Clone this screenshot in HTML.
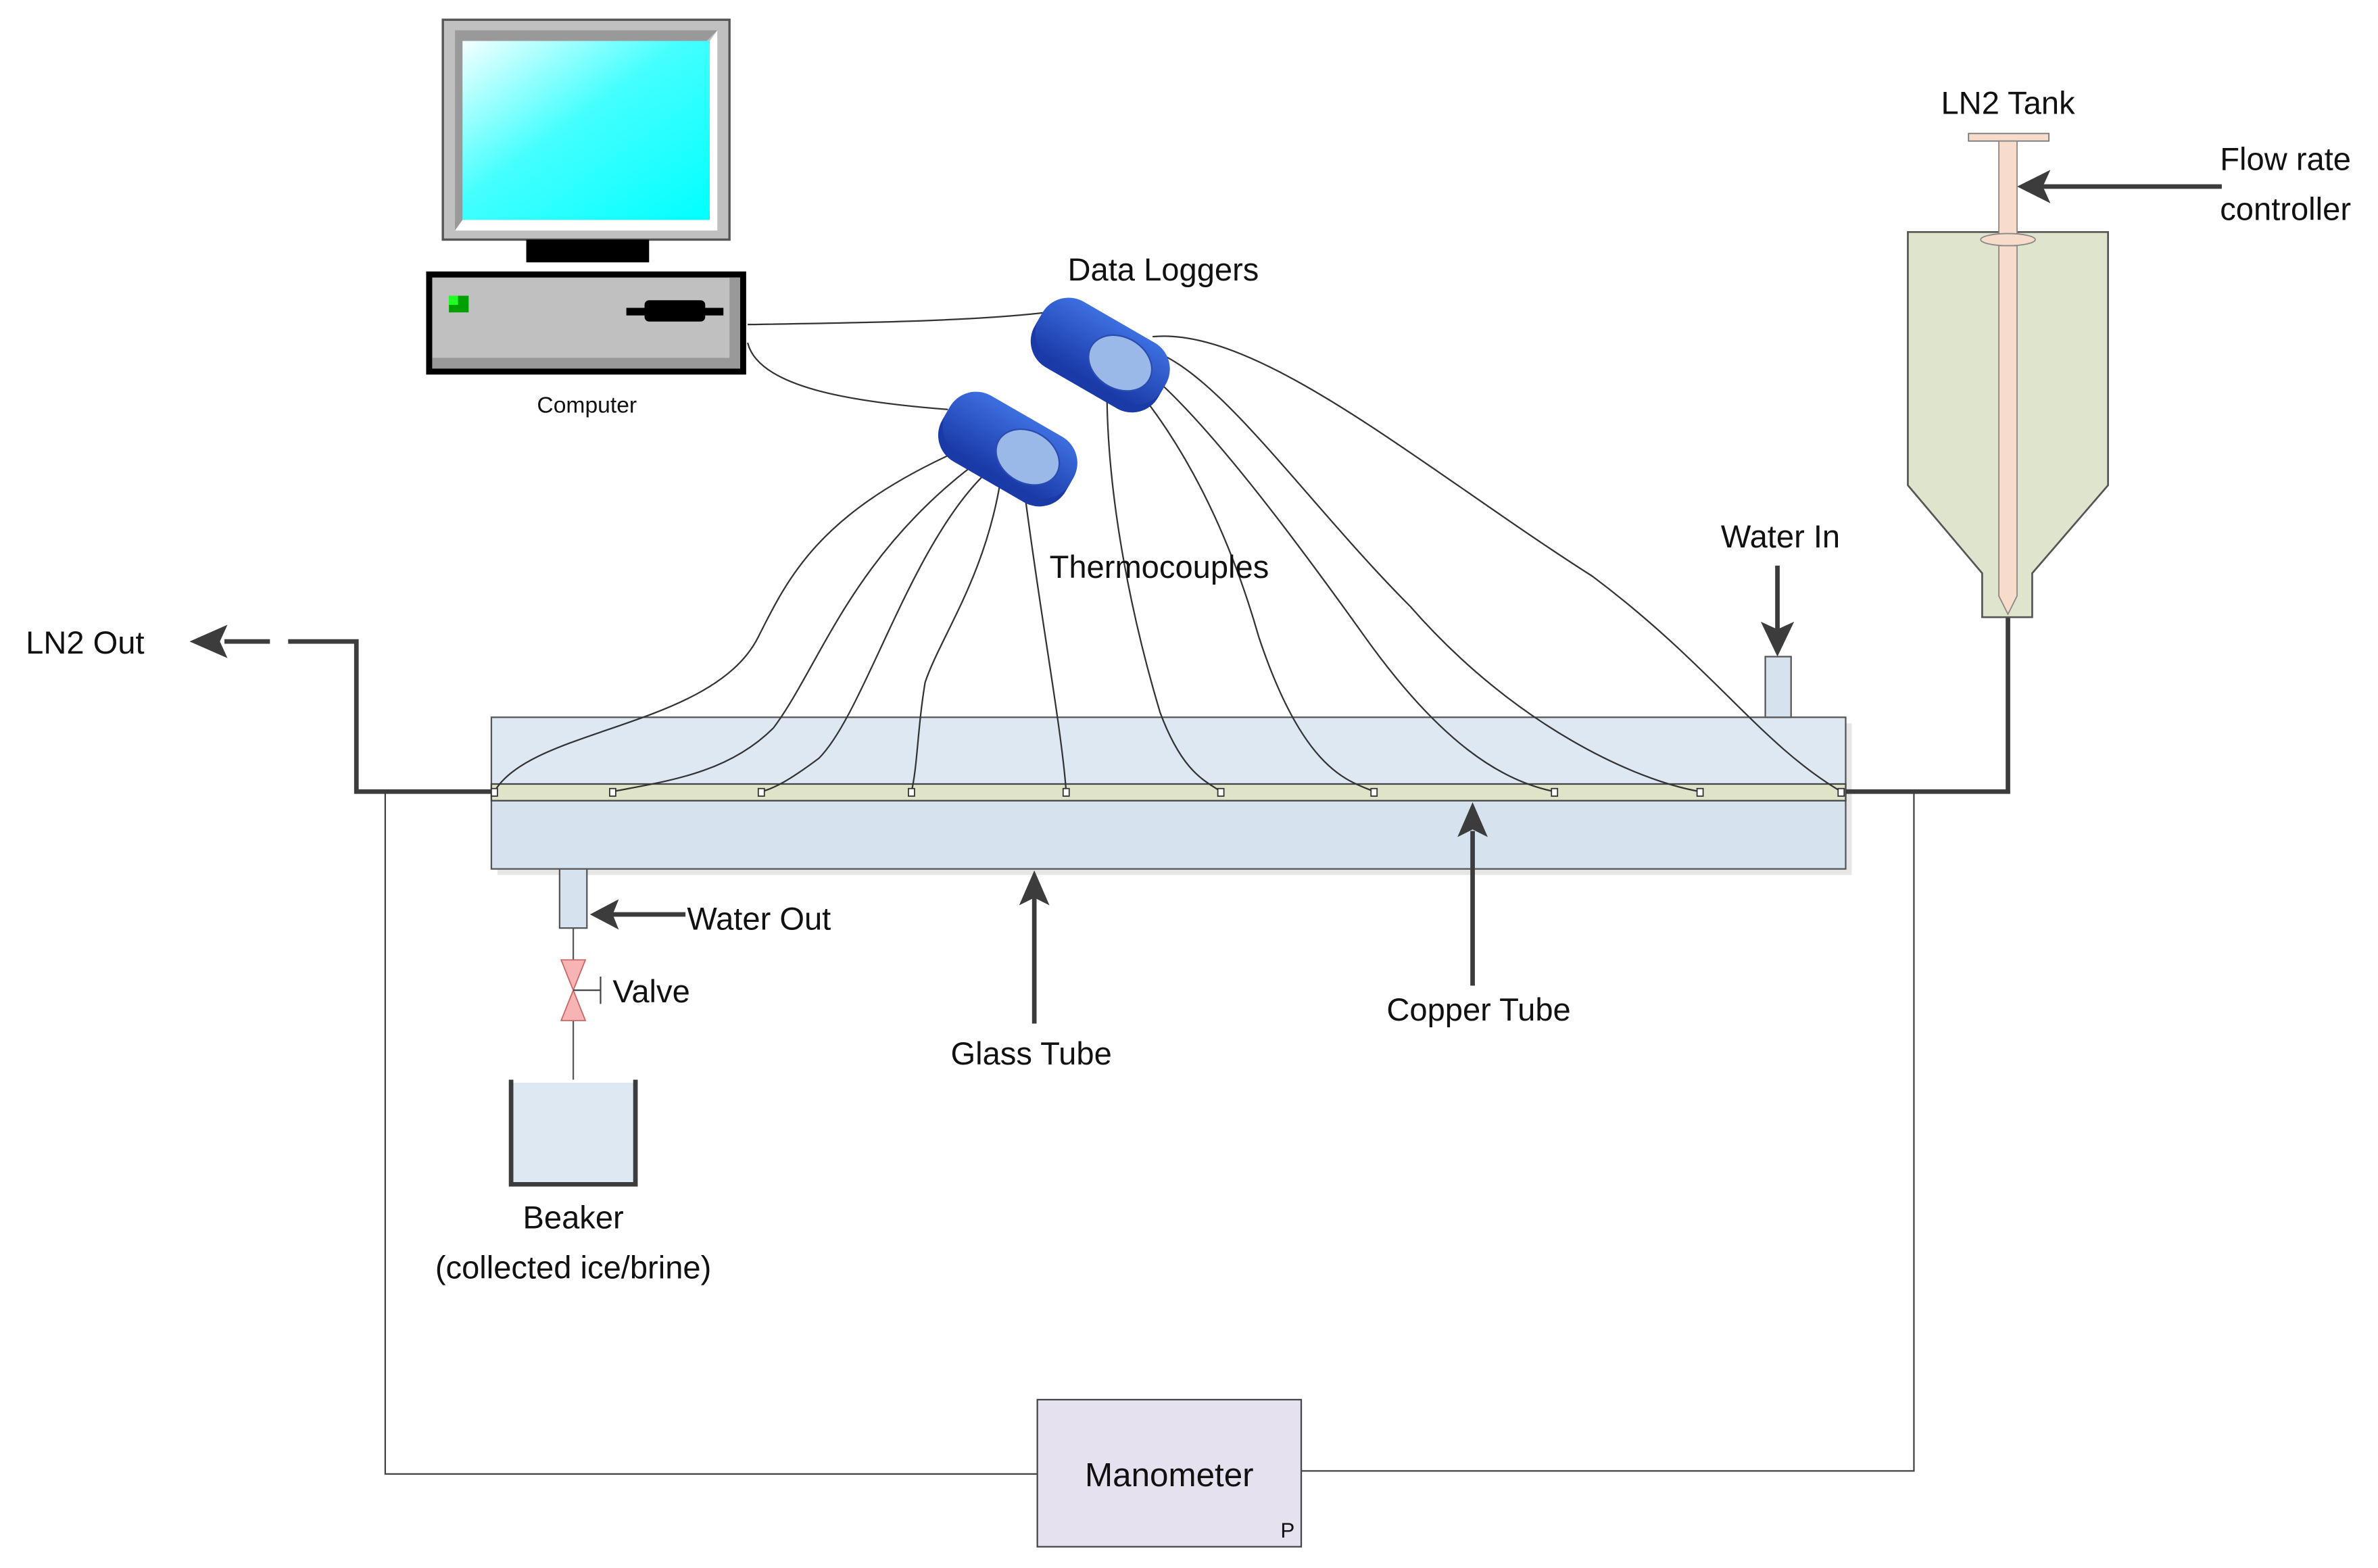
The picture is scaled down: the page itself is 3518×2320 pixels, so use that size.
<!DOCTYPE html>
<html><head><meta charset="utf-8"><style>
html,body{margin:0;padding:0;background:#fff}
svg{display:block}
text{font-family:"Liberation Sans Narrow","Liberation Sans",sans-serif;fill:#111}
</style></head><body>
<svg width="3518" height="2320" viewBox="0 0 1568 1034" xmlns="http://www.w3.org/2000/svg">
<defs>
<linearGradient id="scr" x1="0" y1="0" x2="1" y2="1"><stop offset="0" stop-color="#f4ffff"/><stop offset="0.45" stop-color="#4ff"/><stop offset="1" stop-color="#0ff"/></linearGradient>
<linearGradient id="blu" x1="0" y1="0" x2="0" y2="1"><stop offset="0" stop-color="#3d6fe0"/><stop offset="1" stop-color="#1a3aa8"/></linearGradient>
</defs>
<!-- monitor -->
<rect x="292" y="13" width="189" height="145" fill="#c0c0c0" stroke="#555" stroke-width="1.5"/>
<polygon points="300,20 473,20 466,27 305,27 305,145 300,152" fill="#999"/>
<polygon points="473,20 473,152 300,152 305,145 468,145 468,27" fill="#fff"/>
<rect x="305" y="27" width="163" height="118" fill="url(#scr)"/>
<rect x="347" y="158" width="81" height="15" fill="#000"/>
<!-- cpu -->
<rect x="281" y="179" width="211" height="68" fill="#000"/>
<rect x="285" y="183" width="203" height="60" fill="#c0c0c0"/>
<polygon points="481,183 488,183 488,243 285,243 285,236 481,236" fill="#999"/>
<rect x="296" y="195" width="13" height="11" fill="#00a000"/><rect x="296" y="195" width="6" height="6" fill="#2f2"/>
<rect x="413" y="203" width="64" height="5" fill="#000"/><rect x="425" y="198" width="40" height="14" rx="3" fill="#000"/>
<text x="387" y="272" font-size="15" text-anchor="middle">Computer</text>
<g fill="none" stroke="#333" stroke-width="1">
<path d="M493,214 C560,213 640,212 690,206"/>
<path d="M493,226 C500,255 560,265 625,270"/>
</g>
<!-- glass tube -->
<rect x="328" y="477" width="893" height="100" fill="#e6e6e6"/>
<rect x="324" y="473" width="893" height="100" fill="#d6e3ef"/>
<rect x="324" y="473" width="893" height="44" fill="#dde8f2"/>
<rect x="324" y="473" width="893" height="100" fill="none" stroke="#555" stroke-width="1"/>
<rect x="324" y="517" width="893" height="11" fill="#dfe3c8" stroke="#444" stroke-width="1"/>
<!-- thermocouple wires -->
<g fill="none" stroke="#333" stroke-width="1">
<path d="M626,300 C540,340 520,380 500,420 C470,480 350,480 326,522"/>
<path d="M640,308 C560,370 540,440 510,480 C480,510 440,515 404,522"/>
<path d="M650,312 C600,360 570,470 540,500 C520,515 510,520 502,522"/>
<path d="M660,315 C650,380 620,420 610,450 C605,480 605,505 601,522"/>
<path d="M675,320 C685,400 700,480 703,522"/>
<path d="M730,245 C728,330 750,420 765,470 C780,510 795,515 805,522"/>
<path d="M740,245 C780,290 810,350 830,420 C860,510 890,515 906,522"/>
<path d="M750,240 C790,270 850,350 900,420 C950,490 990,515 1025,522"/>
<path d="M755,230 C800,240 860,330 930,400 C1000,480 1080,515 1121,522"/>
<path d="M760,222 C830,215 940,310 1050,380 C1130,440 1160,490 1214,522"/>
</g>
<g fill="#fff" stroke="#333" stroke-width="0.8">
<rect x="324" y="520" width="4" height="5"/><rect x="402" y="520" width="4" height="5"/><rect x="500" y="520" width="4" height="5"/><rect x="599" y="520" width="4" height="5"/><rect x="701" y="520" width="4" height="5"/><rect x="803" y="520" width="4" height="5"/><rect x="904" y="520" width="4" height="5"/><rect x="1023" y="520" width="4" height="5"/><rect x="1119" y="520" width="4" height="5"/><rect x="1212" y="520" width="4" height="5"/>
</g>
<!-- data loggers -->
<g transform="translate(725,235) rotate(30)">
<rect x="-47" y="-22" width="94" height="46" rx="20" fill="#1a3aa8"/>
<rect x="-47" y="-26" width="94" height="44" rx="20" fill="url(#blu)"/>
<ellipse cx="14" cy="-3" rx="22" ry="17" fill="#9ab8e8" stroke="#2a4cb0"/>
</g>
<g transform="translate(664,297) rotate(30)">
<rect x="-47" y="-22" width="94" height="46" rx="20" fill="#1a3aa8"/>
<rect x="-47" y="-26" width="94" height="44" rx="20" fill="url(#blu)"/>
<ellipse cx="14" cy="-3" rx="22" ry="17" fill="#9ab8e8" stroke="#2a4cb0"/>
</g>
<text x="704" y="185" font-size="21">Data Loggers</text>
<text x="692" y="381" font-size="21">Thermocouples</text>
<!-- manometer loop -->
<g fill="none" stroke="#444" stroke-width="1">
<path d="M254,522 V972 H684"/>
<path d="M858,970 H1262 V522"/>
</g>
<rect x="684" y="923" width="174" height="97" fill="#e6e1ee" stroke="#444" stroke-width="1"/>
<text x="771" y="980" font-size="22" text-anchor="middle">Manometer</text>
<text x="849" y="1014" font-size="14" text-anchor="middle">P</text>
<!-- LN2 lines -->
<g fill="none" stroke="#3c3c3c" stroke-width="3">
<path d="M324,522 H235 V423 H190"/>
<path d="M178,423 H148"/>
<path d="M1217,522 H1324 V407"/>
<path d="M1465,123 H1345"/>
<path d="M1172,373 V418"/>
<path d="M452,603 H402"/>
<path d="M682,675 V592"/>
<path d="M971,650 V548"/>
</g>
<g fill="#3c3c3c">
<polygon points="125,423 150,412 145,423 150,434"/>
<polygon points="1330,123 1352,112 1347,123 1352,134"/>
<polygon points="1172,433 1161,410 1172,415 1183,410"/>
<polygon points="389,603 408,593 404,603 408,613"/>
<polygon points="682,574 672,597 682,592 692,597"/>
<polygon points="971,529 961,552 971,547 981,552"/>
</g>
<text x="17" y="431" font-size="21">LN2 Out</text>
<!-- tank -->
<polygon points="1258,153 1390,153 1390,320 1340,378 1340,407 1307,407 1307,378 1258,320" fill="#dfe4cc" stroke="#555" stroke-width="1.2"/>
<rect x="1298" y="88" width="53" height="5" fill="#f7dccc" stroke="#777" stroke-width="0.8"/>
<rect x="1318" y="93" width="12" height="62" fill="#f7dccc" stroke="#888" stroke-width="0.8"/>
<ellipse cx="1324" cy="158" rx="18" ry="4" fill="#f7dccc" stroke="#888" stroke-width="0.8"/>
<polygon points="1318,162 1330,162 1330,393 1324,405 1318,393" fill="#f7dccc" stroke="#888" stroke-width="0.8"/>
<text x="1324" y="75" font-size="21" text-anchor="middle">LN2 Tank</text>
<text x="1507" y="112" font-size="21" text-anchor="middle">Flow rate</text>
<text x="1507" y="145" font-size="21" text-anchor="middle">controller</text>
<!-- water in -->
<rect x="1164" y="433" width="17" height="40" fill="#d6e3ef" stroke="#555"/>
<text x="1174" y="361" font-size="21" text-anchor="middle">Water In</text>
<!-- water out -->
<rect x="369" y="573" width="18" height="39" fill="#d6e3ef" stroke="#555"/>
<text x="453" y="613" font-size="21">Water Out</text>
<path d="M378,612 V633 M378,673 V712" stroke="#555" fill="none"/>
<polygon points="370,633 386,633 378,653 386,673 370,673 378,653" fill="#f7b4b4" stroke="#c66" stroke-width="0.8"/>
<path d="M378,653 H396 M396,644 V662" stroke="#444" fill="none"/>
<text x="404" y="661" font-size="21">Valve</text>
<!-- beaker -->
<rect x="338" y="714" width="80" height="66" fill="#dde8f2"/>
<path d="M337,712 V781 H419 V712" fill="none" stroke="#3c3c3c" stroke-width="3"/>
<text x="378" y="810" font-size="21" text-anchor="middle">Beaker</text>
<text x="378" y="843" font-size="21" text-anchor="middle">(collected ice/brine)</text>
<text x="680" y="702" font-size="21" text-anchor="middle">Glass Tube</text>
<text x="975" y="673" font-size="21" text-anchor="middle">Copper Tube</text>
</svg>
</body></html>
